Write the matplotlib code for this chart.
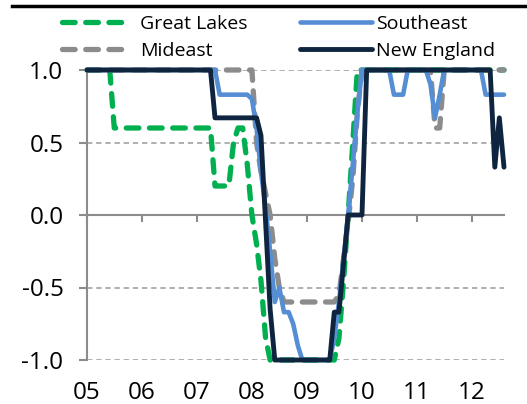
import numpy as np
import pandas as pd
import matplotlib
matplotlib.use('Agg')
import matplotlib.pyplot as plt
import matplotlib.dates as mdates
from matplotlib.lines import Line2D
from matplotlib.ticker import FormatStrFormatter

plt.rcParams['font.family'] = ['Open Sans', 'DejaVu Sans']
plt.rcParams['axes.unicode_minus'] = False

# monthly, Jan 2005 .. Aug 2012
months = pd.date_range('2005-01-01', '2012-08-01', freq='MS')

great_lakes = [
    1.0, 1.0, 1.0, 1.0, 1.0, 1.0, 0.6, 0.6, 0.6, 0.6, 0.6, 0.6,
    0.6, 0.6, 0.6, 0.6, 0.6, 0.6, 0.6, 0.6, 0.6, 0.6, 0.6, 0.6,
    0.6, 0.6, 0.6, 0.6, 0.2, 0.2, 0.2, 0.2, 0.5, 0.6, 0.6, 0.35,
    0.0, -0.2, -0.45, -0.85, -1.0, -1.0, -1.0, -1.0, -1.0, -1.0, -1.0, -1.0,
    -1.0, -1.0, -1.0, -1.0, -1.0, -1.0, -1.0, -0.85, -0.45, 0.0, 0.5, 1.0,
    1.0, 1.0, 1.0, 1.0, 1.0, 1.0, 1.0, 1.0, 1.0, 1.0, 1.0, 1.0,
    1.0, 1.0, 1.0, 1.0, 1.0, 1.0, 1.0, 1.0, 1.0, 1.0, 1.0, 1.0,
    1.0, 1.0, 1.0, 1.0, 1.0, 1.0, 1.0, 1.0,
]
mideast = [
    1.0, 1.0, 1.0, 1.0, 1.0, 1.0, 1.0, 1.0, 1.0, 1.0, 1.0, 1.0,
    1.0, 1.0, 1.0, 1.0, 1.0, 1.0, 1.0, 1.0, 1.0, 1.0, 1.0, 1.0,
    1.0, 1.0, 1.0, 1.0, 1.0, 1.0, 1.0, 1.0, 1.0, 1.0, 1.0, 1.0,
    1.0, 0.5, 0.3, 0.15, 0.0, -0.3, -0.5, -0.6, -0.6, -0.6, -0.6, -0.6,
    -0.6, -0.6, -0.6, -0.6, -0.6, -0.6, -0.6, -0.55, -0.3, -0.05, 0.25, 0.7,
    1.0, 1.0, 1.0, 1.0, 1.0, 1.0, 1.0, 1.0, 1.0, 1.0, 1.0, 1.0,
    1.0, 1.0, 1.0, 1.0, 0.6, 0.6, 1.0, 1.0, 1.0, 1.0, 1.0, 1.0,
    1.0, 1.0, 1.0, 1.0, 1.0, 1.0, 1.0, 1.0,
]
southeast = [
    1.0, 1.0, 1.0, 1.0, 1.0, 1.0, 1.0, 1.0, 1.0, 1.0, 1.0, 1.0,
    1.0, 1.0, 1.0, 1.0, 1.0, 1.0, 1.0, 1.0, 1.0, 1.0, 1.0, 1.0,
    1.0, 1.0, 1.0, 1.0, 1.0, 0.83, 0.83, 0.83, 0.83, 0.83, 0.83, 0.83,
    0.8, 0.6, 0.3, 0.05, -0.25, -0.6, -0.5, -0.67, -0.67, -0.75, -0.9, -1.0,
    -1.0, -1.0, -1.0, -1.0, -1.0, -1.0, -0.85, -0.6, -0.3, 0.0, 0.35, 0.7,
    1.0, 1.0, 1.0, 1.0, 1.0, 1.0, 1.0, 0.83, 0.83, 0.83, 1.0, 1.0,
    1.0, 1.0, 1.0, 0.9, 0.67, 0.83, 1.0, 1.0, 1.0, 1.0, 1.0, 1.0,
    1.0, 1.0, 1.0, 0.83, 0.83, 0.83, 0.83, 0.83,
]
new_england = [
    1.0, 1.0, 1.0, 1.0, 1.0, 1.0, 1.0, 1.0, 1.0, 1.0, 1.0, 1.0,
    1.0, 1.0, 1.0, 1.0, 1.0, 1.0, 1.0, 1.0, 1.0, 1.0, 1.0, 1.0,
    1.0, 1.0, 1.0, 1.0, 0.67, 0.67, 0.67, 0.67, 0.67, 0.67, 0.67, 0.67,
    0.67, 0.67, 0.55, -0.05, -0.65, -1.0, -1.0, -1.0, -1.0, -1.0, -1.0, -1.0,
    -1.0, -1.0, -1.0, -1.0, -1.0, -1.0, -0.67, -0.67, -0.33, 0.0, 0.0, 0.0,
    0.0, 1.0, 1.0, 1.0, 1.0, 1.0, 1.0, 1.0, 1.0, 1.0, 1.0, 1.0,
    1.0, 1.0, 1.0, 1.0, 1.0, 1.0, 1.0, 1.0, 1.0, 1.0, 1.0, 1.0,
    1.0, 1.0, 1.0, 1.0, 1.0, 0.33, 0.67, 0.33,
]

fig = plt.figure(figsize=(5.27, 4.04), dpi=100, facecolor='white')
ax = fig.add_axes([87/527, 44/404, (504-87)/527, 290/404])

l_gl, = ax.plot(months, great_lakes, color='#00b050', lw=3.8, ls=(0, (2.4, 2.0)),
                dash_capstyle='round', clip_on=False, zorder=3)
l_me, = ax.plot(months, mideast, color='#8c8c8c', lw=3.8, ls=(0, (2.4, 2.0)),
                dash_capstyle='round', clip_on=False, zorder=4)
l_se, = ax.plot(months, southeast, color='#558ed5', lw=3.3, solid_capstyle='round',
                clip_on=False, zorder=5)
l_ne, = ax.plot(months, new_england, color='#0f243e', lw=3.5, solid_capstyle='round',
                clip_on=False, zorder=6)

ax.set_xlim(months[0], months[-1])
ax.set_ylim(-1, 1)
ax.set_yticks([-1.0, -0.5, 0.0, 0.5, 1.0])
ax.yaxis.set_major_formatter(FormatStrFormatter('%.1f'))
for v in [-1.0, -0.5, 0.5, 1.0]:
    ax.axhline(v, color='#9a9a9a', lw=1.1, ls=(0, (3.5, 2.5)), zorder=1)

for s in ['top', 'right']:
    ax.spines[s].set_visible(False)
ax.spines['left'].set_color('#8c8c8c')
ax.spines['left'].set_linewidth(1.5)
ax.spines['bottom'].set_position(('data', 0))
ax.spines['bottom'].set_color('#8c8c8c')
ax.spines['bottom'].set_linewidth(1.5)

years = pd.date_range('2005-01-01', '2012-01-01', freq='YS')
ax.set_xticks(years)
ax.tick_params(axis='x', direction='out', length=5, width=1.5, color='#8c8c8c',
               labelbottom=False)
ax.tick_params(axis='y', direction='out', length=6, width=1.5, color='#8c8c8c',
               labelsize=17.5, pad=11, labelcolor='black')

sec = ax.secondary_xaxis(0.0)
sec.set_xticks(years)
sec.xaxis.set_major_formatter(mdates.DateFormatter('%y'))
sec.tick_params(length=0, labelsize=17.5, pad=15)
sec.spines['bottom'].set_visible(False)

fig.add_artist(Line2D([12/527, 1], [1 - 5.5/404, 1 - 5.5/404], color='black', lw=2.5))

fig.legend([l_gl, l_me], ['Great Lakes', 'Mideast'], loc='upper left',
           bbox_to_anchor=(58/527, 1 - 11/404), frameon=False, fontsize=14,
           handlelength=3.4, handletextpad=0.6, labelspacing=0.45,
           borderaxespad=0, borderpad=0.2)
fig.legend([l_se, l_ne], ['Southeast', 'New England'], loc='upper left',
           bbox_to_anchor=(296/527, 1 - 11/404), frameon=False, fontsize=14,
           handlelength=3.7, handletextpad=0.2, labelspacing=0.45,
           borderaxespad=0, borderpad=0.2)

fig.savefig('out.png', dpi=100, facecolor='white')
